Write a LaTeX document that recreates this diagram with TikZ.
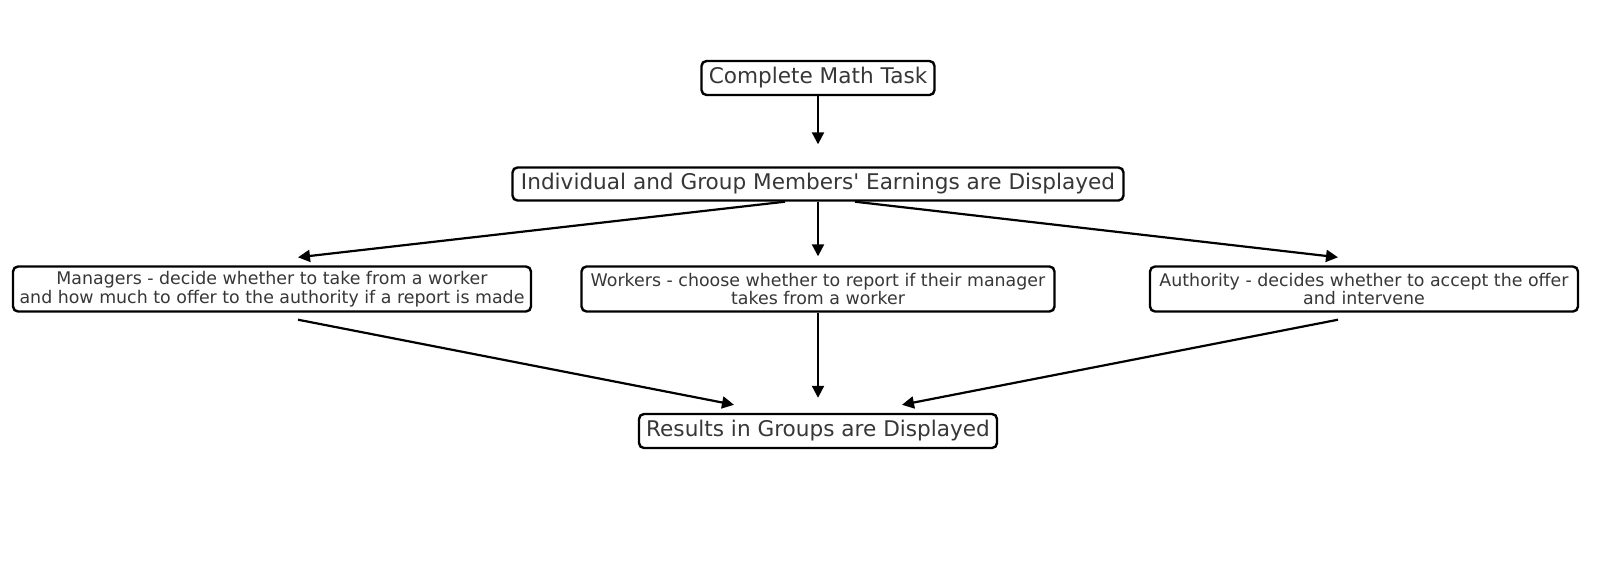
\documentclass[tikz,border=0pt]{standalone}
\usepackage{fontspec}
\setmainfont{DejaVu Sans}[Ligatures=TeXOff]
\usetikzlibrary{calc,arrows.meta}
\definecolor{txt}{RGB}{55,55,55}
\tikzset{
  box/.style={draw=black, line width=1.2pt, rounded corners=2.5pt, fill=white, text=txt, inner sep=0pt, align=center},
  big/.style={box, font=\fontsize{10.8}{12}\selectfont},
  small/.style={box, font=\fontsize{8.7}{9.2}\selectfont},
  arr/.style={line width=1.1pt, -{Triangle[length=6pt,width=6pt]}}
}
\begin{document}
\begin{tikzpicture}[x=0.5pt,y=-0.5pt]
\useasboundingbox (0,0) rectangle (1606,574);
\node[big, minimum width=116.5pt, minimum height=17pt] (cmt) at (818,78) {Complete Math Task};
\node[big, minimum width=305.5pt, minimum height=16.5pt] (ind) at (818,184) {Individual and Group Members' Earnings are Displayed};
\node[small, minimum width=259pt, minimum height=22.5pt] (man) at (272,289) {Managers - decide whether to take from a worker\\and how much to offer to the authority if a report is made};
\node[small, minimum width=236.5pt, minimum height=22.5pt] (wor) at (818,289) {Workers - choose whether to report if their manager\\takes from a worker};
\node[small, minimum width=214pt, minimum height=22.5pt] (aut) at (1364,289) {Authority - decides whether to accept the offer\\and intervene};
\node[big, minimum width=179pt, minimum height=17pt] (res) at (818,431) {Results in Groups are Displayed};
\draw[arr] (cmt.south) -- ($(ind.north)+(0,-22)$);
\draw[arr] ($(ind.south)+(-33,0)$) -- ($(man.north)+(26,-8)$);
\draw[arr] (ind.south) -- ($(wor.north)+(0,-9)$);
\draw[arr] ($(ind.south)+(37,0)$) -- ($(aut.north)+(-26,-8)$);
\draw[arr] ($(man.south)+(26,7)$) -- ($(res.north)+(-84,-8)$);
\draw[arr] (wor.south) -- ($(res.north)+(0,-15)$);
\draw[arr] ($(aut.south)+(-26,7)$) -- ($(res.north)+(84,-8)$);
\end{tikzpicture}
\end{document}
